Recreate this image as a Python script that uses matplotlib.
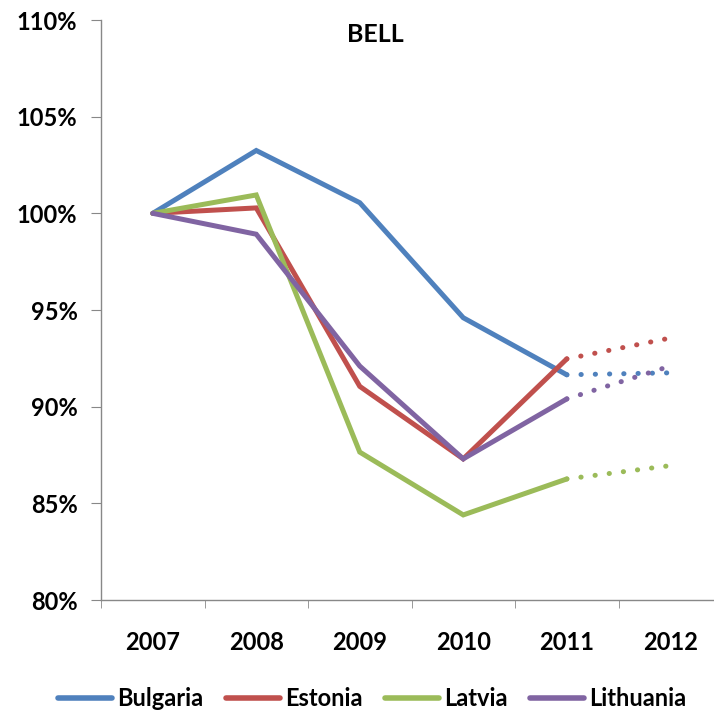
import matplotlib
matplotlib.use("Agg")
import matplotlib.pyplot as plt
from matplotlib.ticker import FixedLocator

years = ["2007", "2008", "2009", "2010", "2011", "2012"]
countries = ["Bulgaria", "Estonia", "Latvia", "Lithuania"]
colors = ["#4F81BD", "#C0504D", "#9BBB59", "#8064A2"]
# actual values 2007-2011, projected 2011-2012
bulgaria = [100.0, 103.25, 100.55, 94.6, 91.65, 91.75]
estonia = [100.0, 100.28, 91.05, 87.3, 92.47, 93.55]
latvia = [100.0, 100.95, 87.65, 84.4, 86.26, 86.95]
lithuania = [100.0, 98.92, 92.1, 87.3, 90.4, 92.1]
series = [bulgaria, estonia, latvia, lithuania]
yticks = [80, 85, 90, 95, 100, 105, 110]

font = "Lato"
fs = 17
fig = plt.figure(figsize=(7.14, 7.17), dpi=100)
ax = fig.add_axes([101/714, (717-600)/717, 621/714, 580/717])

x = list(range(len(years)))
for name, vals, c in zip(countries, series, colors):
    ax.plot(x[:5], vals[:5], color=c, lw=3.6, label=name, solid_capstyle="round",
            solid_joinstyle="miter")
    ax.plot(x[4:], vals[4:], color=c, lw=3.6, linestyle=(0, (0.05, 2.8)),
            dash_capstyle="round")

ax.set_xlim(-0.5, 5.5)
ax.set_ylim(80, 110)
ax.set_yticks(yticks)
ax.set_yticklabels([f"{v}%" for v in yticks], fontfamily=font, fontweight="bold", fontsize=fs)
ax.set_xticks(x)
ax.set_xticklabels(years, fontfamily=font, fontweight="bold", fontsize=fs)
ax.xaxis.set_minor_locator(FixedLocator([i - 0.5 for i in range(7)]))
ax.tick_params(axis="x", which="major", length=0, pad=22)
ax.tick_params(axis="x", which="minor", length=6, color="#888888", direction="out")
ax.tick_params(axis="y", length=7, color="#888888", direction="out", pad=10)
for s in ["top", "right"]:
    ax.spines[s].set_visible(False)
for s in ["left", "bottom"]:
    ax.spines[s].set_color("#888888")
    ax.spines[s].set_linewidth(1)

fig.text(375/714, 1 - 34/717, "BELL", ha="center", va="center",
         fontfamily=font, fontweight="bold", fontsize=18)
leg = fig.legend(*ax.get_legend_handles_labels(), loc="center", bbox_to_anchor=(372/714, 18/717),
                 ncol=4, frameon=False, prop={"family": font, "weight": "bold", "size": fs},
                 handlelength=2.3, handletextpad=0.2, columnspacing=0.95)
for h in leg.get_lines():
    h.set_linewidth(4)
fig.savefig("out.png", dpi=100)
